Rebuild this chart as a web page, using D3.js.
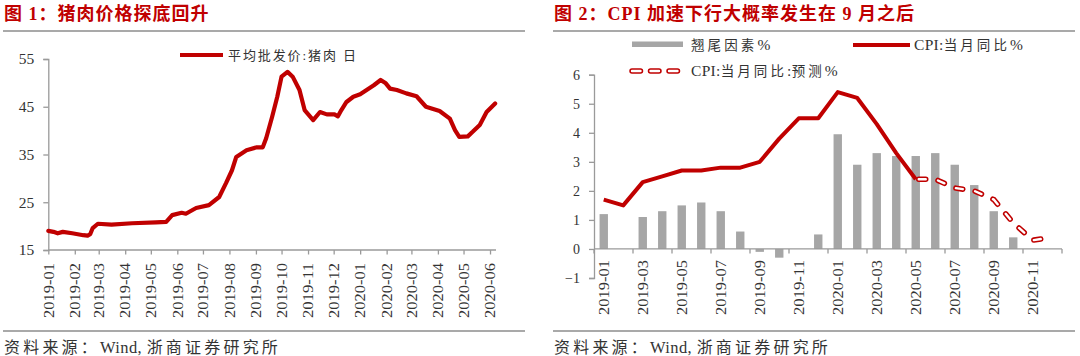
<!DOCTYPE html>
<html><head><meta charset="utf-8">
<script src="https://cdn.jsdelivr.net/npm/d3@7"></script>
<style>
body{margin:0;background:#fff;}
svg{display:block;}
</style></head><body>
<svg id="c" width="1080" height="356"></svg>
<script>
// ---------- Data: Figure 1 (pork wholesale price) ----------
const porkDates = ["2019-01-01","2019-01-07","2019-01-12","2019-01-18","2019-01-29","2019-02-11","2019-02-16","2019-02-19","2019-02-22","2019-02-28","2019-03-16","2019-04-09","2019-05-07","2019-05-19","2019-05-26","2019-06-06","2019-06-11","2019-06-23","2019-07-08","2019-07-20","2019-07-28","2019-08-04","2019-08-09","2019-08-21","2019-09-02","2019-09-09","2019-09-13","2019-09-20","2019-09-26","2019-10-01","2019-10-08","2019-10-14","2019-10-22","2019-10-28","2019-11-07","2019-11-15","2019-11-23","2019-12-02","2019-12-06","2019-12-10","2019-12-16","2019-12-24","2020-01-01","2020-01-17","2020-01-25","2020-01-31","2020-02-05","2020-02-13","2020-02-24","2020-03-07","2020-03-18","2020-04-03","2020-04-15","2020-04-21","2020-04-26","2020-05-06","2020-05-12","2020-05-20","2020-05-28","2020-06-07"];
const porkValues = [19.0,18.8,18.5,18.8,18.5,18.1,18.0,18.3,19.6,20.5,20.3,20.6,20.8,20.9,22.3,22.8,22.6,23.8,24.4,26.1,29.0,31.7,34.5,35.9,36.5,36.5,38.4,42.9,47.1,51.3,52.3,51.3,48.5,44.3,42.2,43.9,43.4,43.4,43.0,44.3,46.0,47.1,47.6,49.5,50.6,49.9,48.8,48.5,47.8,47.2,45.0,44.1,42.5,40.1,38.7,38.8,39.8,41.2,43.9,45.7];
const porkXTicks = ["2019-01","2019-02","2019-03","2019-04","2019-05","2019-06","2019-07","2019-08","2019-09","2019-10","2019-11","2019-12","2020-01","2020-02","2020-03","2020-04","2020-05","2020-06"];
const porkYTicks = [15,25,35,45,55];
const porkSeriesName = "平均批发价:猪肉 日";

// ---------- Data: Figure 2 (CPI) ----------
const cpiMonths = ["2019-01","2019-02","2019-03","2019-04","2019-05","2019-06","2019-07","2019-08","2019-09","2019-10","2019-11","2019-12","2020-01","2020-02","2020-03","2020-04","2020-05","2020-06","2020-07","2020-08","2020-09","2020-10","2020-11","2020-12"];
const carryOver = [1.2,0,1.1,1.3,1.5,1.6,1.3,0.6,-0.1,-0.3,0,0.5,3.95,2.9,3.3,3.2,3.2,3.3,2.9,2.2,1.3,0.4,0,0];
const cpiActual = [1.7,1.5,2.3,2.5,2.7,2.7,2.8,2.8,3.0,3.8,4.5,4.5,5.4,5.2,4.3,3.3,2.4,null,null,null,null,null,null,null];
const cpiForecast = [null,null,null,null,null,null,null,null,null,null,null,null,null,null,null,null,2.4,2.4,2.1,2.0,1.7,0.9,0.3,0.4];
const cpiYTicks = [-1,0,1,2,3,4,5,6];
const cpiXTickLabels = ["2019-01","2019-03","2019-05","2019-07","2019-09","2019-11","2020-01","2020-03","2020-05","2020-07","2020-09","2020-11"];
const seriesNames = ["翘尾因素%","CPI:当月同比%","CPI:当月同比:预测%"];

const titles = ["图 1：猪肉价格探底回升","图 2：CPI 加速下行大概率发生在 9 月之后"];
const sourceText = "资料来源：Wind, 浙商证券研究所";

// ---------- Styles ----------
const RED = "#C00000", GRAY_BAR = "#A6A6A6", AXIS = "#9A9A9A", TXT = "#333333";
const SERIF = "'Liberation Serif','Times New Roman','Noto Sans CJK SC',serif";
const CJK = "'Liberation Serif','Noto Sans CJK SC',sans-serif";

const svg = d3.select("#c");
const parse = d3.timeParse("%Y-%m-%d");
const parseM = d3.timeParse("%Y-%m");

// text with wide spacing for CJK glyphs and tight spacing for Latin runs
function mixedText(sel, str, cjkSp, latSp, latSize) {
  const runs = str.match(/[\x00-\x7F]+|[^\x00-\x7F]+/g) || [];
  runs.forEach(r => {
    const latin = /^[\x00-\x7F]+$/.test(r);
    const t = sel.append("tspan").attr("letter-spacing", latin ? latSp : cjkSp).text(r);
    if (latin && latSize) t.attr("font-size", latSize);
  });
  return sel;
}

// ---------- Panel frames (titles, rules, sources) ----------
function frame(x0, x1, title) {
  svg.append("text").attr("x", x0 + 1).attr("y", 14).attr("dominant-baseline", "central")
    .attr("font-family", CJK).attr("font-weight", "bold").attr("font-size", 18)
    .attr("letter-spacing", 1).attr("fill", RED).text(title);
  svg.append("line").attr("x1", x0).attr("x2", x1).attr("y1", 31).attr("y2", 31)
    .attr("stroke", "#8c8c8c").attr("stroke-width", 1.5);
  svg.append("line").attr("x1", x0).attr("x2", x1).attr("y1", 331).attr("y2", 331)
    .attr("stroke", "#8c8c8c").attr("stroke-width", 1.5);
  const s = svg.append("text").attr("x", x0 + 1).attr("y", 353)
    .attr("font-family", CJK).attr("font-size", 16).attr("fill", TXT);
  mixedText(s, sourceText, 3.2, 0.4, 16.5);
}
frame(3, 525, titles[0]);
frame(553, 1075, titles[1]);

// ---------- Figure 1 ----------
{
  const x = d3.scaleTime().domain([parse("2019-01-01"), parse("2020-06-08")]).range([48.3, 496]);
  const y = d3.scaleLinear().domain([15, 55]).range([250, 59]);
  const g = svg.append("g");

  const ya = g.append("g").attr("transform", "translate(48.3,0)")
    .call(d3.axisLeft(y).tickValues(porkYTicks).tickSize(5).tickPadding(9).tickFormat(d3.format("d")));
  ya.select(".domain").attr("stroke", AXIS).attr("stroke-width", 1.3);
  ya.selectAll(".tick line").attr("stroke", AXIS).attr("stroke-width", 1.3);
  ya.selectAll(".tick text").attr("font-family", SERIF).attr("font-size", 15.5).attr("fill", TXT);

  const xa = g.append("g").attr("transform", "translate(0,250)")
    .call(d3.axisBottom(x).tickValues(porkXTicks.map(parseM)).tickSize(4.5).tickFormat(""));
  xa.select(".domain").attr("stroke", AXIS).attr("stroke-width", 1.3).attr("d", "M48.3,0H496");
  xa.selectAll(".tick line").attr("stroke", AXIS).attr("stroke-width", 1.3);
  g.append("g").selectAll("text").data(porkXTicks).join("text")
    .attr("transform", d => `translate(${x(parseM(d))},263) rotate(-90)`)
    .attr("text-anchor", "end").attr("dy", "0.35em")
    .attr("font-family", SERIF).attr("font-size", 15).attr("fill", TXT)
    .attr("textLength", 55).attr("lengthAdjust", "spacingAndGlyphs")
    .text(d => d);

  const pts = porkDates.map((d, i) => [parse(d), porkValues[i]]);
  g.append("path").datum(pts)
    .attr("d", d3.line().x(d => x(d[0])).y(d => y(d[1])))
    .attr("fill", "none").attr("stroke", RED).attr("stroke-width", 4.2)
    .attr("stroke-linejoin", "round").attr("stroke-linecap", "round");

  g.append("line").attr("x1", 180).attr("x2", 223).attr("y1", 55).attr("y2", 55)
    .attr("stroke", RED).attr("stroke-width", 4);
  const lt = g.append("text").attr("x", 228).attr("y", 55).attr("dominant-baseline", "central")
    .attr("font-family", CJK).attr("font-size", 13).attr("fill", TXT);
  mixedText(lt, porkSeriesName, 1.9, 1.9);
}

// ---------- Figure 2 ----------
{
  const x = d3.scaleBand().domain(cpiMonths).range([594, 1062]).paddingInner(0.57).paddingOuter(0.285);
  const y = d3.scaleLinear().domain([-1, 6]).range([278, 74.7]);
  const cx = d => x(d) + x.bandwidth() / 2;
  const step = x.step();
  const g = svg.append("g");

  g.append("g").selectAll("rect").data(cpiMonths.map((m, i) => ({m, v: carryOver[i]})).filter(d => d.v !== 0))
    .join("rect")
    .attr("x", d => x(d.m)).attr("width", x.bandwidth())
    .attr("y", d => y(Math.max(0, d.v))).attr("height", d => Math.abs(y(d.v) - y(0)))
    .attr("fill", GRAY_BAR);

  const ya = g.append("g").attr("transform", "translate(594,0)")
    .call(d3.axisLeft(y).tickValues(cpiYTicks).tickSize(5).tickPadding(9).tickFormat(d3.format("d")));
  ya.select(".domain").attr("stroke", AXIS).attr("stroke-width", 1.3);
  ya.selectAll(".tick line").attr("stroke", AXIS).attr("stroke-width", 1.3);
  ya.selectAll(".tick text").attr("font-family", SERIF).attr("font-size", 14).attr("fill", TXT);

  const y0 = y(0);
  g.append("line").attr("x1", 594).attr("x2", 1062).attr("y1", y0).attr("y2", y0)
    .attr("stroke", AXIS).attr("stroke-width", 1.3);
  const bounds = cpiMonths.filter((m, i) => i % 2 === 0).map(m => cx(m) - step / 2).concat([cx(cpiMonths[cpiMonths.length - 1]) + step / 2]);
  g.append("g").selectAll("line").data(bounds).join("line")
    .attr("x1", d => d).attr("x2", d => d).attr("y1", y0).attr("y2", y0 + 4.5)
    .attr("stroke", AXIS).attr("stroke-width", 1.3);
  g.append("g").selectAll("text").data(cpiXTickLabels).join("text")
    .attr("transform", d => `translate(${cx(d)},260) rotate(-90)`)
    .attr("text-anchor", "end").attr("dy", "0.35em")
    .attr("font-family", SERIF).attr("font-size", 15).attr("fill", TXT)
    .attr("textLength", 55).attr("lengthAdjust", "spacingAndGlyphs")
    .text(d => d);

  const line = d3.line().defined(d => d.v != null).x(d => cx(d.m)).y(d => y(d.v));
  g.append("path").datum(cpiMonths.map((m, i) => ({m, v: cpiActual[i]})))
    .attr("d", line).attr("fill", "none").attr("stroke", RED).attr("stroke-width", 4)
    .attr("stroke-linejoin", "round");

  const fc = cpiMonths.map((m, i) => ({m, v: cpiForecast[i]}));
  g.append("path").datum(fc).attr("d", line).attr("fill", "none")
    .attr("stroke", RED).attr("stroke-width", 5.5).attr("stroke-linecap", "round")
    .attr("stroke-dasharray", "7,12.5").attr("stroke-dashoffset", -3);
  g.append("path").datum(fc).attr("d", line).attr("fill", "none")
    .attr("stroke", "#fff").attr("stroke-width", 2.4).attr("stroke-linecap", "round")
    .attr("stroke-dasharray", "7,12.5").attr("stroke-dashoffset", -3);

  // legend
  g.append("rect").attr("x", 632).attr("y", 41.5).attr("width", 51).attr("height", 5.5).attr("fill", GRAY_BAR);
  g.append("line").attr("x1", 853).attr("x2", 910).attr("y1", 45).attr("y2", 45)
    .attr("stroke", RED).attr("stroke-width", 4);
  g.append("line").attr("x1", 632).attr("x2", 680).attr("y1", 71).attr("y2", 71)
    .attr("stroke", RED).attr("stroke-width", 5.5).attr("stroke-linecap", "round").attr("stroke-dasharray", "8.5,10");
  g.append("line").attr("x1", 632).attr("x2", 680).attr("y1", 71).attr("y2", 71)
    .attr("stroke", "#fff").attr("stroke-width", 2.4).attr("stroke-linecap", "round").attr("stroke-dasharray", "8.5,10");
  const lg = [[691, 50, seriesNames[0]], [914, 50, seriesNames[1]], [691, 76, seriesNames[2]]];
  lg.forEach(d => {
    const t = g.append("text").attr("x", d[0]).attr("y", d[1])
      .attr("font-family", CJK).attr("font-size", 13.5).attr("fill", TXT);
    mixedText(t, d[2], 3.1, 0.3, 15.5);
  });
}
</script>
</body></html>
